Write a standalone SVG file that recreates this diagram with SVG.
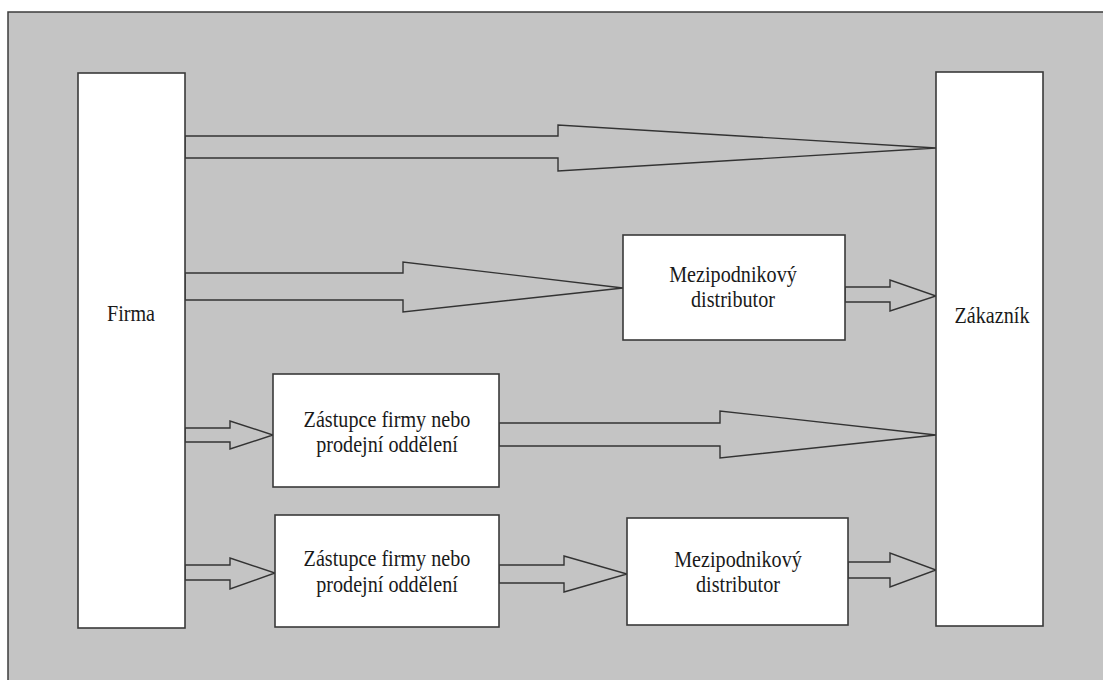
<svg xmlns="http://www.w3.org/2000/svg" width="1103" height="680" viewBox="0 0 1103 680">
<style>
.bg{fill:#c4c4c4;stroke:#3c3c3c;stroke-width:1.5}
.box{fill:#ffffff;stroke:#3a3a3a;stroke-width:1.6}
.arr{fill:#c4c4c4;stroke:#333333;stroke-width:1.4;stroke-linejoin:miter}
.t{font-family:"Liberation Serif","Times New Roman",serif;font-size:24px;fill:#1a1a1a;text-anchor:middle}
</style>
<rect width="1103" height="680" fill="#ffffff"/>
<rect class="bg" x="8" y="12" width="1110" height="690"/>
<g id="connectors">
<polygon class="arr" points="185,136 558,136 558,125 936,148 558,171 558,158 185,158"/>
<polygon class="arr" points="185,273 403,273 403,262 623,288 403,312 403,300 185,300"/>
<polygon class="arr" points="845,287 890,287 890,280 936,296 890,311 890,302 845,302"/>
<polygon class="arr" points="185,428 230,428 230,421 273,435 230,449 230,442 185,442"/>
<polygon class="arr" points="499,423 720,423 720,411 936,435 720,458 720,446 499,446"/>
<polygon class="arr" points="185,565 230,565 230,558 275,573 230,589 230,580 185,580"/>
<polygon class="arr" points="499,565 564,565 564,556 627,574 564,592 564,583 499,583"/>
<polygon class="arr" points="848,562 890,562 890,553 936,570 890,587 890,578 848,578"/>
</g>
<g id="firma">
<rect class="box" x="78" y="73" width="107" height="555"/>
<text class="t" transform="translate(131,321) scale(0.84,1)">Firma</text>
</g>
<g id="zakaznik">
<rect class="box" x="936" y="72" width="107" height="554"/>
<text class="t" transform="translate(992,323) scale(0.84,1)">Zákazník</text>
</g>
<g id="distributor1">
<rect class="box" x="623" y="235" width="222" height="105"/>
<text class="t" transform="translate(733,282) scale(0.84,1)">Mezipodnikový</text>
<text class="t" transform="translate(733,307) scale(0.84,1)">distributor</text>
</g>
<g id="zastupce1">
<rect class="box" x="273" y="374" width="226" height="113"/>
<text class="t" transform="translate(387,427) scale(0.84,1)">Zástupce firmy nebo</text>
<text class="t" transform="translate(387,452) scale(0.84,1)">prodejní oddělení</text>
</g>
<g id="zastupce2">
<rect class="box" x="275" y="515" width="224" height="112"/>
<text class="t" transform="translate(387,566) scale(0.84,1)">Zástupce firmy nebo</text>
<text class="t" transform="translate(387,592) scale(0.84,1)">prodejní oddělení</text>
</g>
<g id="distributor2">
<rect class="box" x="627" y="518" width="221" height="107"/>
<text class="t" transform="translate(738,567) scale(0.84,1)">Mezipodnikový</text>
<text class="t" transform="translate(738,592) scale(0.84,1)">distributor</text>
</g>
</svg>
